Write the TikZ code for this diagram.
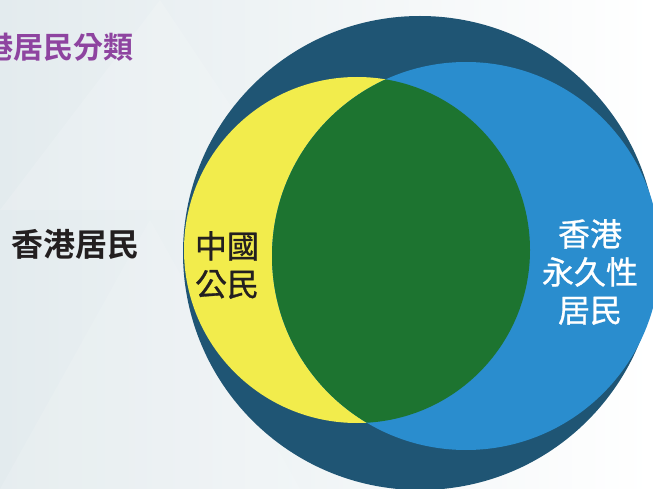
\documentclass[tikz,border=0pt]{standalone}
\usepackage{fontspec}
\newfontfamily\cjk{Noto Sans CJK TC}[FakeBold=0.8]
\newfontfamily\cjkbold{Noto Sans CJK TC}[BoldFont={* Bold}]
\usetikzlibrary{positioning}
\definecolor{bgleft}{HTML}{E3EBEE}
\definecolor{outerblue}{HTML}{1F5574}
\definecolor{citizen}{HTML}{F2EC4C}
\definecolor{permanent}{HTML}{2A8DCE}
\definecolor{both}{HTML}{1D7430}
\definecolor{titlepurple}{HTML}{8E44A0}
\definecolor{labelgrey}{HTML}{231F20}
\tikzset{
  label32/.style={inner sep=0pt, align=center, font=\cjk\fontsize{32}{38}\selectfont},
  label32b/.style={inner sep=0pt, align=center, font=\cjkbold\bfseries\fontsize{32}{38}\selectfont},
}

\begin{document}
\begin{tikzpicture}[x=1pt,y=-1pt]
		\useasboundingbox (0,0) rectangle (653,489);
		\clip (0,0) rectangle (653,489);
		\shade[left color=bgleft, right color=white] (0,0) rectangle (653,489);
		% faint background triangles
		\fill[white,opacity=0.15] (0,210) -- (160,0) -- (300,210) -- cycle;
		\fill[white,opacity=0.12] (0,489) -- (150,220) -- (300,489) -- cycle;

		\coordinate(O) at (420,253);
		\coordinate(Y) at (357,250);
		\coordinate(B) at (466,256);

		\fill[outerblue] (O) circle (237pt);
		\fill[citizen] (Y) circle (173pt);
		\fill[permanent] (B) circle (194pt);
		\begin{scope}
			\clip (Y) circle (173pt);
			\fill[both] (B) circle (194pt);
		\end{scope}

		\node[anchor=west,inner sep=0pt,text=titlepurple,font=\cjkbold\bfseries\fontsize{30}{30}\selectfont] (title) at (-17,47) {港居民分類};
		\node[label32b,text=labelgrey] (resident) at (75,244) {香港居民};
		\node[label32,text=labelgrey] (citizenlbl) at (227,265) {中國\\公民};
		\node[label32,text=white] (permlbl) at (590,272) {香港\\永久性\\居民};
	\end{tikzpicture}
\end{document}
